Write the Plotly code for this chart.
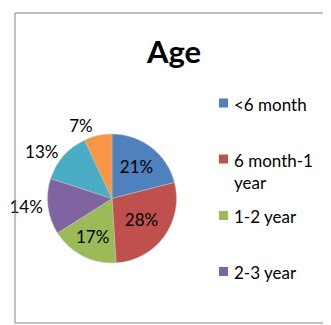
import plotly.graph_objects as go

labels = ["<6 month", "6 month-1 year", "1-2 year", "2-3 year", "3-4 year", ">4 year"]
values = [21, 28, 17, 14, 13, 7]
colors = ["#4F81BD", "#C0504D", "#9BBB59", "#8064A2", "#4BACC6", "#F79646"]
legend_text = ["<6 month", "6 month-1<br>year", "1-2 year", "2-3 year"]
legend_y = [95, 151, 207.5, 263.5]

W, H = 331, 325
font = "Lato, Carlito, Calibri, sans-serif"

cx, cy, r = 104, 190.5, 64.5
fig = go.Figure(go.Pie(
    labels=labels, values=values, sort=False, direction="clockwise", rotation=0,
    marker=dict(colors=colors, line=dict(color="#BFBFBF", width=0.5)),
    texttemplate="%{percent:.0%}",
    textposition=["inside", "inside", "inside", "outside", "outside", "outside"],
    insidetextorientation="horizontal",
    textfont=dict(family=font, size=17, color="#000000"),
    domain=dict(x=[(cx - r) / W, (cx + r) / W], y=[1 - (cy + r) / H, 1 - (cy - r) / H]),
    showlegend=False, automargin=False,
))

shapes = [dict(type="rect", xref="paper", yref="paper", x0=7 / W, x1=324 / W,
               y0=1 - 315 / H, y1=1 - 5 / H, line=dict(color="#868686", width=1))]
annotations = [dict(text="<b>Age</b>", x=165 / W, y=1 - 43 / H, xref="paper", yref="paper",
                    showarrow=False, font=dict(family=font, size=31, color="#000000"),
                    xanchor="center", yanchor="middle")]
for i, t in enumerate(legend_text):
    yc = legend_y[i]
    shapes.append(dict(type="rect", xref="paper", yref="paper",
                       x0=211 / W, x1=220 / W, y0=1 - (yc + 4.5) / H, y1=1 - (yc - 4.5) / H,
                       fillcolor=colors[i], line=dict(width=0)))
    annotations.append(dict(text=t, x=224 / W, y=1 - (yc - 11.5) / H, xref="paper", yref="paper",
                            showarrow=False, align="left", xanchor="left", yanchor="top",
                            font=dict(family=font, size=17, color="#000000")))

fig.update_layout(width=W, height=H, margin=dict(l=0, r=0, t=0, b=0),
                  paper_bgcolor="white", plot_bgcolor="white",
                  shapes=shapes, annotations=annotations)
fig.write_html("out.html")
